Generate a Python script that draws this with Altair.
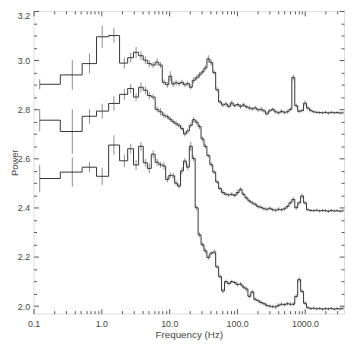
import altair as alt
import pandas as pd

# Frequency grid (Hz), shared by the three spectra
FREQ = [0.1232, 0.3725, 0.6676, 1.027, 1.528, 2.178,
        2.702, 3.242, 3.826, 4.442, 5.07, 5.79, 6.61, 7.42, 8.34, 9.36,
        10.34, 11.42, 12.61, 13.93, 15.39, 17.0, 18.77, 20.73, 22.89, 25.29, 27.93,
        30.85, 34.07, 37.63, 41.56, 45.90, 50.70, 56.00, 61.85, 68.31, 75.45, 83.33, 92.04,
        101.7, 112.3, 124.0, 137.0, 151.3, 167.1, 184.6, 203.9, 225.2, 248.7, 274.7, 303.4,
        335.1, 370.1, 408.8, 451.5, 498.7, 550.8, 608.3, 671.9, 742.1, 819.6, 905.2, 1000,
        1104, 1220, 1347, 1488, 1643, 1815, 2005, 2214, 2446, 2701, 2983, 3296, 3640]

UPPER = [2.902, 2.940, 2.986, 3.095, 3.100, 2.988,
         3.010, 3.032, 3.018, 3.000, 2.986, 2.980, 2.992, 2.980, 2.910, 2.900,
         2.935, 2.903, 2.908, 2.905, 2.910, 2.900, 2.905, 2.890, 2.918, 2.928, 2.940,
         2.952, 2.968, 3.005, 2.990, 2.950, 2.880, 2.830, 2.818, 2.822, 2.812, 2.826, 2.815,
         2.820, 2.812, 2.818, 2.810, 2.806, 2.802, 2.806, 2.798, 2.800, 2.794, 2.782, 2.794,
         2.800, 2.790, 2.786, 2.792, 2.788, 2.790, 2.800, 2.930, 2.815, 2.792, 2.795, 2.825,
         2.805, 2.795, 2.790, 2.788, 2.787, 2.786, 2.788, 2.785, 2.788, 2.786, 2.787, 2.785, 2.786]
UPPER_ERR = [0.020, 0.060, 0.040, 0.045, 0.030, 0.022,
             0.020, 0.022, 0.018, 0.015, 0.015, 0.012, 0.015, 0.012, 0.012, 0.012,
             0.020, 0.012, 0.012, 0.010, 0.010, 0.010, 0.010, 0.010, 0.012, 0.010, 0.012,
             0.010, 0.010, 0.015, 0.012, 0.010, 0.010, 0.008, 0.008, 0.010, 0.008, 0.010, 0.008,
             0.008, 0.010, 0.008, 0.008, 0.010, 0.008, 0.008, 0.008, 0.010, 0.008, 0.008, 0.008,
             0.008, 0.008, 0.008, 0.010, 0.008, 0.008, 0.008, 0.012, 0.008, 0.008, 0.008, 0.010,
             0.008, 0.008, 0.006, 0.006, 0.006, 0.006, 0.006, 0.006, 0.006, 0.006, 0.006, 0.006, 0.006]

MIDDLE = [2.756, 2.710, 2.772, 2.793, 2.824, 2.861,
          2.885, 2.850, 2.890, 2.878, 2.856, 2.850, 2.800, 2.790, 2.776, 2.770,
          2.760, 2.750, 2.742, 2.735, 2.722, 2.700, 2.712, 2.735, 2.758, 2.748, 2.730,
          2.680, 2.650, 2.612, 2.575, 2.545, 2.505, 2.478, 2.462, 2.455, 2.452, 2.455, 2.450,
          2.462, 2.475, 2.455, 2.440, 2.428, 2.420, 2.414, 2.405, 2.402, 2.396, 2.394, 2.398,
          2.392, 2.390, 2.394, 2.392, 2.396, 2.405, 2.420, 2.434, 2.400, 2.420, 2.448, 2.420,
          2.392, 2.389, 2.388, 2.390, 2.387, 2.389, 2.388, 2.386, 2.389, 2.387, 2.388, 2.386, 2.388]
MIDDLE_ERR = [0.045, 0.090, 0.030, 0.030, 0.030, 0.022,
              0.018, 0.015, 0.020, 0.015, 0.015, 0.012, 0.012, 0.015, 0.012, 0.010,
              0.010, 0.010, 0.012, 0.010, 0.010, 0.010, 0.010, 0.010, 0.012, 0.010, 0.010,
              0.010, 0.010, 0.008, 0.010, 0.008, 0.008, 0.008, 0.010, 0.008, 0.008, 0.008, 0.008,
              0.010, 0.008, 0.008, 0.008, 0.008, 0.008, 0.008, 0.008, 0.008, 0.008, 0.008, 0.008,
              0.008, 0.008, 0.008, 0.008, 0.008, 0.008, 0.008, 0.010, 0.008, 0.008, 0.010, 0.008,
              0.006, 0.006, 0.006, 0.006, 0.006, 0.006, 0.006, 0.006, 0.006, 0.006, 0.006, 0.006, 0.006]

LOWER = [2.519, 2.545, 2.565, 2.528, 2.655, 2.591,
         2.640, 2.574, 2.650, 2.583, 2.560, 2.618, 2.585, 2.575, 2.570, 2.515,
         2.532, 2.530, 2.500, 2.488, 2.550, 2.590, 2.565, 2.650, 2.600, 2.400, 2.290,
         2.250, 2.225, 2.198, 2.215, 2.220, 2.160, 2.120, 2.062, 2.100, 2.092, 2.100, 2.096,
         2.088, 2.090, 2.078, 2.070, 2.040, 2.058, 2.028, 2.022, 2.015, 2.010, 2.003, 2.000,
         1.998, 1.997, 2.004, 2.008, 2.006, 2.010, 2.008, 2.008, 2.040, 2.108, 2.060, 2.012,
         1.994, 1.990, 1.992, 1.989, 1.991, 1.988, 1.990, 1.989, 1.991, 1.988, 1.990, 1.989, 1.991]
LOWER_ERR = [0.056, 0.060, 0.020, 0.035, 0.040, 0.025,
             0.020, 0.020, 0.018, 0.015, 0.020, 0.015, 0.015, 0.012, 0.015, 0.012,
             0.012, 0.012, 0.010, 0.010, 0.015, 0.012, 0.012, 0.018, 0.012, 0.010, 0.010,
             0.010, 0.010, 0.010, 0.008, 0.010, 0.008, 0.008, 0.010, 0.008, 0.008, 0.008, 0.008,
             0.008, 0.008, 0.008, 0.010, 0.008, 0.008, 0.008, 0.008, 0.008, 0.008, 0.008, 0.008,
             0.008, 0.008, 0.008, 0.008, 0.008, 0.008, 0.008, 0.008, 0.008, 0.010, 0.008, 0.008,
             0.006, 0.006, 0.006, 0.006, 0.006, 0.006, 0.006, 0.006, 0.006, 0.006, 0.006, 0.006, 0.006]

X_MAJOR = [0.1, 1, 10, 100, 1000]
X_MINOR = [0.2, 0.3, 0.4, 0.5, 0.6, 0.7, 0.8, 0.9, 2, 3, 4, 5, 6, 7, 8, 9,
           20, 30, 40, 50, 60, 70, 80, 90, 200, 300, 400, 500, 600, 700, 800, 900,
           2000, 3000]
Y_MAJOR = [2.0, 2.2, 2.4, 2.6, 2.8, 3.0, 3.2]
Y_MINOR = [2.05, 2.1, 2.15, 2.25, 2.3, 2.35, 2.45, 2.5, 2.55, 2.65, 2.7, 2.75,
           2.85, 2.9, 2.95, 3.05, 3.1, 3.15]

SERIES = [("upper", UPPER, UPPER_ERR), ("middle", MIDDLE, MIDDLE_ERR), ("lower", LOWER, LOWER_ERR)]

# IDL-style histogram steps: each value spans to the linear midpoints with its neighbours
step_rows, pt_rows = [], []
n = len(FREQ)
for name, vals, errs in SERIES:
    for i in range(n):
        left = FREQ[i] if i == 0 else (FREQ[i - 1] + FREQ[i]) / 2
        right = FREQ[i] if i == n - 1 else (FREQ[i] + FREQ[i + 1]) / 2
        step_rows.append({"series": name, "f": left, "p": vals[i], "k": 2 * i})
        step_rows.append({"series": name, "f": right, "p": vals[i], "k": 2 * i + 1})
        pt_rows.append({"series": name, "f": FREQ[i], "p": vals[i],
                        "lo": vals[i] - errs[i], "hi": vals[i] + errs[i]})
steps = pd.DataFrame(step_rows)
pts = pd.DataFrame(pt_rows)

xscale = alt.Scale(type="log", domain=[0.1, 3760], nice=False)
yscale = alt.Scale(domain=[1.97, 3.2], nice=False, zero=False)

AX = dict(domain=False, grid=False, tickColor="#555", tickWidth=1,
          labelColor="#444", labelFont="Liberation Sans", labelFontSize=9,
          titleColor="#444", titleFont="Liberation Sans",
          titleFontWeight="normal")

def ticks_only(orient, values, size):
    return alt.Axis(orient=orient, values=values, tickSize=size, offset=-size,
                    labels=False, title=None, domain=False, grid=False,
                    tickColor="#555", tickWidth=1)

bottom_major = alt.Axis(orient="bottom", values=X_MAJOR, format=".1f", tickSize=5,
                        offset=-5, labelPadding=6, title="Frequency (Hz)",
                        titlePadding=1, titleFontSize=10, labelFlush=False,
                        labelOverlap=False, **AX)
left_major = alt.Axis(orient="left", values=Y_MAJOR, format=".1f", tickSize=5,
                      offset=-5, labelPadding=4, title="Power", titleAngle=270,
                      titleFontSize=9.5, titleX=-21.5, titleY=154, titleAlign="center",
                      titleBaseline="alphabetic", labelFlush=False,
                      labelOffset=alt.condition("datum.value > 3.1", alt.value(5), alt.value(0)),
                      **AX)

line = alt.Chart(steps).mark_line(color="#333", strokeWidth=1).encode(
    x=alt.X("f:Q", scale=xscale, axis=bottom_major),
    y=alt.Y("p:Q", scale=yscale, axis=left_major),
    detail="series:N",
    order="k:Q",
)

errs = alt.Chart(pts).mark_rule(color="#8c8c8c", strokeWidth=1).encode(
    x=alt.X("f:Q", scale=xscale, axis=ticks_only("bottom", X_MINOR, 3)),
    y=alt.Y("lo:Q", scale=yscale, axis=ticks_only("left", Y_MINOR, 3)),
    y2="hi:Q",
)

top_right_major = alt.Chart(pts).mark_point(opacity=0).encode(
    x=alt.X("f:Q", scale=xscale, axis=ticks_only("top", X_MAJOR, 5)),
    y=alt.Y("p:Q", scale=yscale, axis=ticks_only("right", Y_MAJOR, 5)),
)

top_right_minor = alt.Chart(pts).mark_point(opacity=0).encode(
    x=alt.X("f:Q", scale=xscale, axis=ticks_only("top", X_MINOR, 3)),
    y=alt.Y("p:Q", scale=yscale, axis=ticks_only("right", Y_MINOR, 3)),
)

chart = alt.layer(errs, line, top_right_major, top_right_minor).resolve_axis(
    x="independent", y="independent"
).properties(
    width=316, height=308,
    autosize=alt.AutoSizeParams(type="none"),
    padding={"left": 26, "top": 0, "right": 2, "bottom": 30},
).configure_view(stroke="#555", strokeWidth=1).configure(background="white")

chart.save("out.html", embed_options={"renderer": "svg", "actions": False})
